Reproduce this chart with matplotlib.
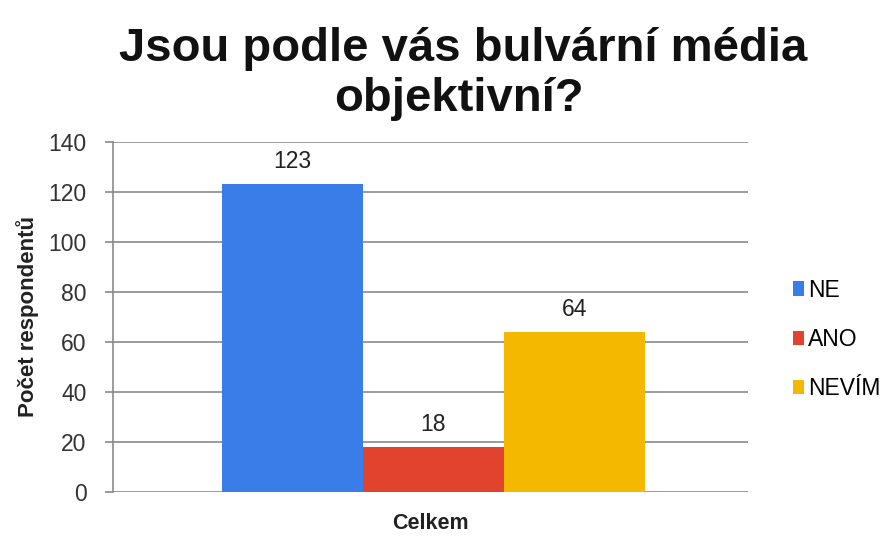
import matplotlib
matplotlib.use("Agg")
import matplotlib.pyplot as plt
from matplotlib.patches import Patch

plt.rcParams['font.family'] = ['Liberation Sans', 'DejaVu Sans']

categories = ["NE", "ANO", "NEVÍM"]
values = [123, 18, 64]
colors = ["#3B7DE8", "#E2432F", "#F5B800"]
yticks = [0, 20, 40, 60, 80, 100, 120, 140]
group_label = "Celkem"
title_lines = ["Jsou podle vás bulvární média", "objektivní?"]

fig = plt.figure(figsize=(8.95, 5.37), dpi=100)
ax = fig.add_axes([0.1263, 0.0838, 0.7095, 0.6518])

positions = [-1, 0, 1]
bars = ax.bar(positions, values, width=1.0, color=colors, zorder=3)
for b, v in zip(bars, values):
    ax.annotate(str(v), (b.get_x() + b.get_width() / 2, v), xytext=(0, 8),
                textcoords="offset points", ha="center", va="bottom",
                fontsize=16.5, color="#222222")

ax.set_ylim(0, 140)
ax.set_xlim(-2.27, 2.23)
ax.set_yticks(yticks)
ax.set_yticklabels([str(t) for t in yticks], fontsize=16.5, color="#333333")
ax.set_xticks([])
ax.yaxis.grid(True, color="#8a8a8a", linewidth=1.2, zorder=0)
ax.tick_params(axis="y", length=6, width=1.2, color="#8a8a8a", pad=13)
for s in ["top", "right", "bottom"]:
    ax.spines[s].set_visible(False)
ax.spines["left"].set_color("#8a8a8a")
ax.spines["left"].set_linewidth(1.2)

ax.set_xlabel(group_label, fontsize=15.5, fontweight="bold", color="#222222", labelpad=15)
ax.set_ylabel("Počet respondentů", fontsize=16, fontweight="bold", color="#222222", labelpad=7)

fig.text(0.517, 1 - 61 / 537, title_lines[0], ha="center", va="baseline",
         fontsize=34, fontweight="bold", color="#111111")
fig.text(0.513, 1 - 111 / 537, title_lines[1], ha="center", va="baseline",
         fontsize=34, fontweight="bold", color="#111111")

handles = [Patch(facecolor=c, edgecolor="none") for c in colors]
fig.legend(handles, categories, loc="center left", bbox_to_anchor=(0.886, 0.368),
           frameon=False, fontsize=16.5, handlelength=0.5, handleheight=0.6,
           handletextpad=0.15, labelspacing=1.15, borderaxespad=0, borderpad=0)

fig.savefig("out.png", dpi=100, facecolor="white")
